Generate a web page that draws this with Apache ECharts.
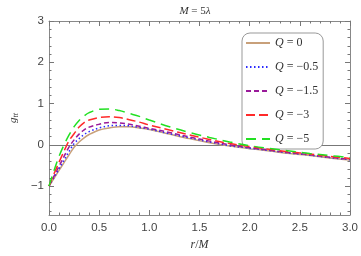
<!DOCTYPE html>
<html>
<head>
<meta charset="utf-8">
<script src="https://cdn.jsdelivr.net/npm/echarts@6/dist/echarts.min.js"></script>
<style>html,body{margin:0;padding:0;background:#fff}#c{width:361px;height:256px}</style>
</head>
<body>
<div id="c"></div>
<script>
var rValues = [0, 0.05, 0.1, 0.15, 0.2, 0.25, 0.3, 0.35, 0.4, 0.5, 0.6, 0.7, 0.8, 0.9, 1.0, 1.2, 1.4, 1.6, 1.8, 2.0, 2.2, 2.4, 2.6, 2.8, 3.0];
var gQ0   = [-1, -0.81, -0.62, -0.43, -0.24, -0.06, 0.07, 0.17, 0.25, 0.36, 0.41, 0.44, 0.44, 0.41, 0.37, 0.26, 0.15, 0.05, -0.03, -0.09, -0.15, -0.21, -0.26, -0.32, -0.37];
var gQm05 = [-1, -0.79, -0.58, -0.37, -0.16, 0.03, 0.15, 0.25, 0.32, 0.41, 0.46, 0.47, 0.46, 0.42, 0.38, 0.27, 0.17, 0.07, -0.02, -0.08, -0.14, -0.20, -0.25, -0.31, -0.36];
var gQm15 = [-1, -0.76, -0.52, -0.28, -0.05, 0.12, 0.26, 0.36, 0.43, 0.50, 0.54, 0.53, 0.50, 0.45, 0.40, 0.30, 0.19, 0.09, 0.00, -0.07, -0.13, -0.19, -0.24, -0.30, -0.35];
var gQm3  = [-1, -0.70, -0.42, -0.15, 0.10, 0.27, 0.43, 0.54, 0.60, 0.66, 0.68, 0.66, 0.61, 0.55, 0.48, 0.36, 0.24, 0.13, 0.03, -0.04, -0.11, -0.17, -0.22, -0.28, -0.33];
var gQm5  = [-1, -0.62, -0.28, 0.00, 0.24, 0.44, 0.59, 0.70, 0.78, 0.86, 0.87, 0.83, 0.76, 0.69, 0.60, 0.44, 0.30, 0.18, 0.07, -0.02, -0.09, -0.15, -0.21, -0.26, -0.31];
var seriesNames = ['Q = 0', 'Q = \u22120.5', 'Q = \u22121.5', 'Q = \u22123', 'Q = \u22125'];
var xTicks = [0, 0.5, 1, 1.5, 2, 2.5, 3];
var yTicks = [-1, 0, 1, 2, 3];
var yMinorTicks = [-1.6, -1.4, -1.2, -0.8, -0.6, -0.4, -0.2, 0.2, 0.4, 0.6, 0.8, 1.2, 1.4, 1.6, 1.8, 2.2, 2.4, 2.6, 2.8];

function pairs(ys) { return rValues.map(function (r, i) { return [r, ys[i]]; }); }

var colors = ['#c8a07a', '#2a2aff', '#9a1a9a', '#ff2a2a', '#22e022'];
var dashes = ['solid', [1.5, 2.5], [5, 3], [9, 4], [10, 6]];
var data = [gQ0, gQm05, gQm15, gQm3, gQm5];

var series = data.map(function (d, i) {
  return {
    name: seriesNames[i], type: 'line', data: pairs(d), smooth: 0.35,
    showSymbol: false, symbol: 'none', xAxisIndex: 0, yAxisIndex: 0,
    lineStyle: { color: colors[i], width: 1.5, type: dashes[i] },
    itemStyle: { color: colors[i] },
    z: 3 + i
  };
});
series[0].markLine = {
  silent: true, symbol: 'none', label: { show: false },
  lineStyle: { color: '#777', width: 1, type: 'solid' },
  data: [{ yAxis: 0 }], z: 1
};

var tickColor = '#777';
function yAxisDef(pos, major, showLabel) {
  return {
    type: 'value', min: -1.7, max: 3, position: pos,
    axisLine: { show: major, onZero: false, lineStyle: { color: '#888' } },
    splitLine: { show: false },
    axisTick: { show: true, inside: true, length: major ? 5 : 2.5, customValues: major ? yTicks : yMinorTicks, lineStyle: { color: tickColor } },
    axisLabel: { show: showLabel, customValues: yTicks, fontFamily: 'Liberation Sans', fontSize: 11.5, color: '#444', margin: 5,
      formatter: function (v) { return String(v).replace('-', '\u2212'); } },
    name: showLabel ? '{g|g}{s|tt}' : '', nameLocation: 'middle', nameGap: 22, nameRotate: 90,
    nameTextStyle: { rich: { g: { fontFamily: 'Liberation Serif', fontStyle: 'italic', fontSize: 11, color: '#333' },
                             s: { fontFamily: 'Liberation Serif', fontStyle: 'italic', fontSize: 8, color: '#333', verticalAlign: 'bottom', padding: [5, 0, 0, 0] } } }
  };
}
function xAxisDef(pos, showLabel) {
  return {
    type: 'value', min: 0, max: 3, interval: 0.5, position: pos,
    axisLine: { show: true, onZero: false, lineStyle: { color: '#888' } },
    splitLine: { show: false },
    axisTick: { show: true, inside: true, length: 5, lineStyle: { color: tickColor } },
    minorTick: { show: true, splitNumber: 5, length: 2.5, lineStyle: { color: tickColor } },
    axisLabel: { show: showLabel, fontFamily: 'Liberation Sans', fontSize: 11.5, color: '#444', margin: 7,
      formatter: function (v) { return v.toFixed(1); } },
    name: showLabel ? '{i|r}/{i|M}' : '', nameLocation: 'middle', nameGap: 24,
    nameTextStyle: { fontFamily: 'Liberation Serif', fontSize: 12, color: '#333',
      rich: { i: { fontFamily: 'Liberation Serif', fontStyle: 'italic', fontSize: 12, color: '#333' } } }
  };
}

var chart = echarts.init(document.getElementById('c'), null, { renderer: 'canvas' });
chart.setOption({
  animation: false,
  backgroundColor: '#fff',
  title: {
    text: '{i|M} = 5{i|\u03bb}', left: 190, top: 1, textAlign: 'center',
    textStyle: { fontFamily: 'Liberation Serif', fontSize: 11, fontWeight: 'normal', color: '#333',
      rich: { i: { fontFamily: 'Liberation Serif', fontStyle: 'italic', fontSize: 11, color: '#333' } } }
  },
  grid: { left: 30, right: 8, top: 21, bottom: 36 },
  xAxis: [xAxisDef('bottom', true), xAxisDef('top', false)],
  yAxis: [yAxisDef('left', true, true), yAxisDef('left', false, false), yAxisDef('right', true, false), yAxisDef('right', false, false)],
  legend: {
    orient: 'vertical', left: 242, top: 33,
    itemWidth: 24, itemHeight: 14, itemGap: 12,
    padding: [4, 5, 4, 3],
    itemStyle: { opacity: 0 },
    backgroundColor: '#fff', borderColor: '#999', borderWidth: 1, borderRadius: 8,
    data: seriesNames,
    formatter: function (n) { return '{i|Q}' + n.slice(1); },
    textStyle: { fontFamily: 'Liberation Serif', fontSize: 12, color: '#333',
      rich: { i: { fontFamily: 'Liberation Serif', fontStyle: 'italic', fontSize: 12, color: '#333' } } }
  },
  series: series
});
</script>
</body>
</html>
